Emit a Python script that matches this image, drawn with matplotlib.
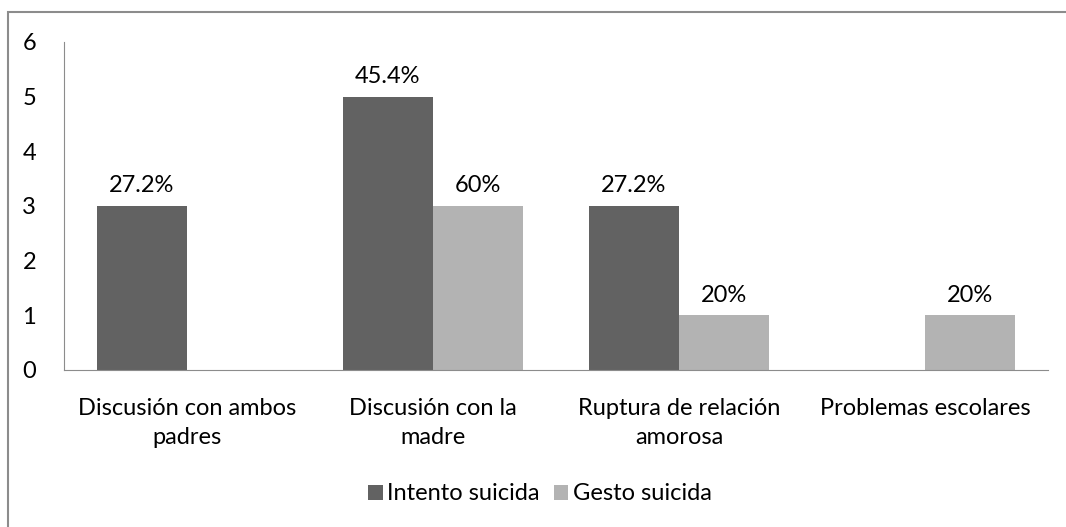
import matplotlib.pyplot as plt
from matplotlib.patches import Rectangle
import numpy as np

# ==========================
# Data
# ==========================

categories = [
    "Discusión con ambos\npadres",
    "Discusión con la\nmadre",
    "Ruptura de relación\namorosa",
    "Problemas escolares",
]
intento = [3, 5, 3, 0]
gesto = [0, 3, 1, 1]
intento_labels = ["27.2%", "45.4%", "27.2%", ""]
gesto_labels = ["", "60%", "20%", "20%"]
series_names = ["Intento suicida", "Gesto suicida"]
yticks = [0, 1, 2, 3, 4, 5, 6]

# ==========================
# Plot
# ==========================

plt.rcParams["font.family"] = ["Lato", "DejaVu Sans"]
FS = 17

fig = plt.figure(figsize=(10.66, 5.27), dpi=100)
ax = fig.add_axes([64 / 1066, 1 - 370 / 527, (1048 - 64) / 1066, (370 - 42) / 527])

# outer frame (Excel chart border)
fig.patches.append(Rectangle((8 / 1066, -0.05), 1.2, 1 - 12 / 527 + 0.05,
                             transform=fig.transFigure, fill=False,
                             edgecolor="#8c8c8c", linewidth=1.5))

x = np.arange(len(categories))
w = 0.366
b1 = ax.bar(x - w / 2, intento, w, color="#626262", label=series_names[0])
b2 = ax.bar(x + w / 2, gesto, w, color="#b3b3b3", label=series_names[1])

for bars, labels in [(b1, intento_labels), (b2, gesto_labels)]:
    for bar, lab in zip(bars, labels):
        if lab:
            ax.annotate(lab, (bar.get_x() + bar.get_width() / 2, bar.get_height()),
                        xytext=(0, 7), textcoords="offset points",
                        ha="center", va="bottom", fontsize=FS)

ax.set_xlim(-0.5, len(categories) - 0.5)
ax.set_ylim(0, 6)
ax.set_yticks(yticks)
ax.set_xticks(x)
ax.set_xticklabels(categories, fontsize=FS, linespacing=1.5)
ax.tick_params(axis="y", length=0, labelsize=FS, pad=20)
ax.tick_params(axis="x", length=0, pad=20)

for s in ["top", "right"]:
    ax.spines[s].set_visible(False)
ax.spines["left"].set_color("#8c8c8c")
ax.spines["bottom"].set_color("#8c8c8c")

fig.legend(loc="center", bbox_to_anchor=(540 / 1066, 1 - 494 / 527), ncol=2,
           frameon=False, fontsize=FS, handlelength=0.6, handleheight=0.6,
           handletextpad=0.2, columnspacing=0.6)

fig.savefig("out.png", dpi=100)
